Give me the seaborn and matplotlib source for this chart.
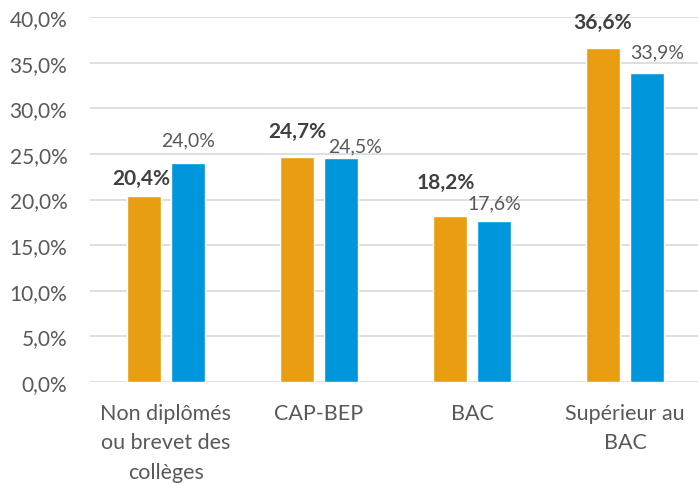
import matplotlib
matplotlib.use("Agg")
import matplotlib.pyplot as plt
import seaborn as sns
import pandas as pd

categories = ["Non diplômés\nou brevet des\ncollèges", "CAP-BEP", "BAC", "Supérieur au\nBAC"]
series_names = ["Série A", "Série B"]
values_a = [20.4, 24.7, 18.2, 36.6]
values_b = [24.0, 24.5, 17.6, 33.9]
y_ticks = [0, 5, 10, 15, 20, 25, 30, 35, 40]

# label placement (pixel offsets of label centre from bar top centre)
label_off_a = [(-3, 18), (0, 26), (-4, 34), (0, 26)]
label_off_b = [(0, 23), (14, 13), (0, 19), (10, 21)]

colors = ["#E99D10", "#0096DC"]
text_color = "#595959"
bold_color = "#404040"

sns.set_theme(style="white")
plt.rcParams["font.family"] = ["Lato", "DejaVu Sans"]

df = pd.DataFrame({
    "cat": categories * 2,
    "serie": [series_names[0]] * 4 + [series_names[1]] * 4,
    "val": values_a + values_b,
})

fig = plt.figure(figsize=(6.98, 4.85), dpi=100)
ax = fig.add_axes([89.5 / 698, 102 / 485, 612 / 698, 365 / 485])

sns.barplot(data=df, x="cat", y="val", hue="serie", palette=colors,
            width=0.575, gap=0.227, legend=False, ax=ax, saturation=1,
            errorbar=None)

ax.set_ylim(0, 40)
ax.set_xlim(-0.5, 3.5)
ax.set_yticks(y_ticks)
ax.set_yticklabels([f"{v:.1f}".replace(".", ",") + "%" for v in y_ticks],
                   fontsize=15, color=text_color)
ax.tick_params(axis="x", labelsize=15.5, labelcolor=text_color, pad=15, length=0)
ax.tick_params(axis="y", length=0, pad=16)
for lab in ax.get_xticklabels():
    lab.set_linespacing(1.6)
ax.set_xlabel("")
ax.set_ylabel("")
ax.yaxis.grid(True, color="#D9D9D9", linewidth=1.2)
ax.set_axisbelow(True)
for s in ax.spines.values():
    s.set_visible(False)

# data labels
containers = ax.containers
for bar, v, off in zip(containers[0], values_a, label_off_a):
    ax.annotate(f"{v:.1f}".replace(".", ",") + "%",
                (bar.get_x() + bar.get_width() / 2, bar.get_height()),
                xytext=off, textcoords="offset pixels",
                ha="center", va="center", fontsize=15, fontweight="bold",
                color=bold_color)
for bar, v, off in zip(containers[1], values_b, label_off_b):
    ax.annotate(f"{v:.1f}".replace(".", ",") + "%",
                (bar.get_x() + bar.get_width() / 2, bar.get_height()),
                xytext=off, textcoords="offset pixels",
                ha="center", va="center", fontsize=14, color=text_color)

fig.savefig("out.png", dpi=100)
